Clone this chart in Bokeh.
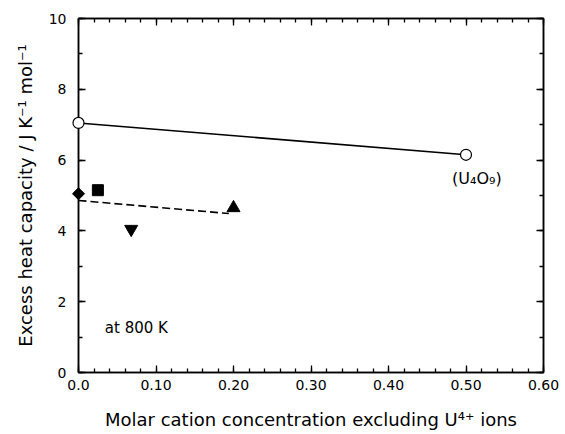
import numpy as np
from bokeh.plotting import figure
from bokeh.models import LinearAxis, FixedTicker, Range1d, Label
from bokeh.embed import file_html
from bokeh.resources import INLINE

# data
u4o9_x = [0.0, 0.5]
u4o9_y = [7.05, 6.15]
diamond_x = [0.0]; diamond_y = [5.05]
square_x = [0.025]; square_y = [5.15]
invtri_x = [0.068]; invtri_y = [4.05]
tri_x = [0.2]; tri_y = [4.65]
dash_x = [0.0, 0.194]
dash_y = [4.86, 4.49]

x_ticks = [0.0, 0.1, 0.2, 0.3, 0.4, 0.5, 0.6]
x_tick_labels = ["0.0", "0.10", "0.20", "0.30", "0.40", "0.50", "0.60"]
y_ticks = [0, 2, 4, 6, 8, 10]

FONT = "DejaVu Sans"

p = figure(width=565, height=434, output_backend="svg", toolbar_location=None,
           x_range=Range1d(0, 0.6), y_range=Range1d(0, 10),
           x_axis_location=None, y_axis_location=None,
           min_border_left=78, min_border_right=22, min_border_top=18, min_border_bottom=62)
p.xgrid.visible = False
p.ygrid.visible = False
p.outline_line_color = "black"
p.outline_line_width = 1.5
p.background_fill_color = "white"
p.border_fill_color = "white"

xt = FixedTicker(ticks=x_ticks, minor_ticks=list(np.round(np.arange(0, 0.6001, 0.02), 4)))
yt = FixedTicker(ticks=y_ticks, minor_ticks=list(np.arange(0, 10.01, 1.0)))

def style(ax, labels=True):
    ax.axis_line_color = "black"
    ax.axis_line_width = 1.5
    ax.major_tick_in = 7
    ax.major_tick_out = 0
    ax.minor_tick_in = 4
    ax.minor_tick_out = 0
    ax.major_tick_line_width = 1.3
    ax.minor_tick_line_width = 1.3
    ax.major_label_text_font = FONT
    ax.major_label_text_font_size = "14px"
    ax.major_label_text_color = "black"
    ax.axis_label_text_font = FONT
    ax.axis_label_text_font_style = "normal"
    ax.axis_label_text_font_size = "18px"
    ax.axis_label_text_color = "black"
    if not labels:
        ax.major_label_text_font_size = "0px"
        ax.major_label_text_alpha = 0

xb = LinearAxis(ticker=xt, axis_label="Molar cation concentration excluding U⁴⁺ ions")
style(xb)
xb.major_label_overrides = {t: l for t, l in zip(x_ticks, x_tick_labels)}
xb.major_label_standoff = 7
xb.axis_label_standoff = 16
p.add_layout(xb, "below")

yl = LinearAxis(ticker=yt, axis_label="Excess heat capacity / J K⁻¹ mol⁻¹")
style(yl)
yl.major_label_standoff = 12
yl.axis_label_standoff = 10
p.add_layout(yl, "left")

xa = LinearAxis(ticker=xt)
style(xa, labels=False)
p.add_layout(xa, "above")
ya = LinearAxis(ticker=yt)
style(ya, labels=False)
p.add_layout(ya, "right")

p.line(u4o9_x, u4o9_y, line_color="black", line_width=1.6)
p.line(dash_x, dash_y, line_color="black", line_width=1.6, line_dash="8 4")
p.scatter(u4o9_x, u4o9_y, marker="circle", size=11, fill_color="white", line_color="black",
          line_width=1.2, level="overlay")
p.scatter(diamond_x, diamond_y, marker="square", angle=np.pi / 4, size=8.5, fill_color="black",
          line_color="black", level="overlay")
p.scatter(square_x, square_y, marker="square", size=11, fill_color="black", line_color="black",
          level="overlay")
p.scatter(invtri_x, invtri_y, marker="inverted_triangle", size=13, fill_color="black",
          line_color="black", level="overlay")
p.scatter(tri_x, tri_y, marker="triangle", size=13, fill_color="black", line_color="black",
          level="overlay")

p.add_layout(Label(x=0.034, y=1.27, text="at 800 K", text_font=FONT, text_font_size="15px",
                   text_baseline="middle", text_color="black"))
p.add_layout(Label(x=0.482, y=5.48, text="(U₄O₉)", text_font=FONT, text_font_size="16px",
                   text_baseline="middle", text_color="black"))

open("out.html", "w").write(file_html(p, INLINE))
